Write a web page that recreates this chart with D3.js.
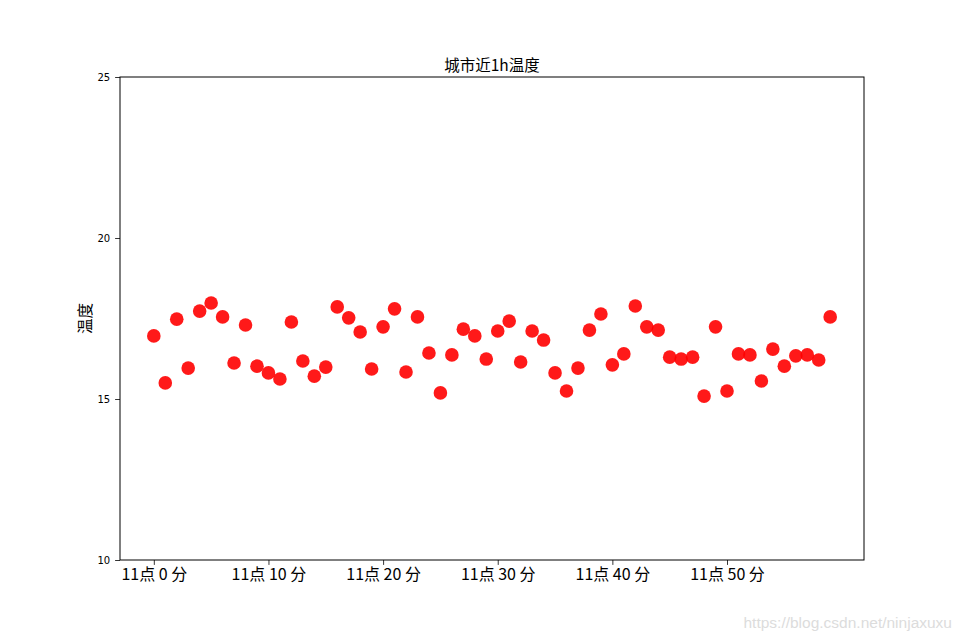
<!DOCTYPE html>
<html><head><meta charset="utf-8">
<script src="https://cdn.jsdelivr.net/npm/d3@7"></script>
<style>body{margin:0;background:#fff;}svg{display:block;}</style>
</head><body>
<svg id="c" width="960" height="640"></svg>
<script>
const minutes = d3.range(0, 60);
const temps = [16.96,15.50,17.48,15.96,17.73,17.98,17.55,16.12,17.30,16.02,
  15.81,15.62,17.39,16.18,15.71,15.99,17.86,17.52,17.08,15.93,
  17.24,17.80,15.84,17.55,16.43,15.19,16.37,17.17,16.96,16.24,
  17.11,17.42,16.15,17.11,16.83,15.81,15.25,15.96,17.14,17.64,
  16.06,16.40,17.89,17.24,17.14,16.30,16.24,16.30,15.09,17.24,
  15.25,16.40,16.37,15.56,16.55,16.02,16.34,16.37,16.21,17.55];
const xTicks = [0,10,20,30,40,50];
const xTickLabels = xTicks.map(m => "11点 " + m + " 分");
const yTicks = [10,15,20,25];
const title = "城市近1h温度";
const yLabel = "温度";

const svg = d3.select("#c");
const L=120, R=864, T=77, B=560;
const x = d3.scaleLinear().domain([-2.95, 61.95]).range([L, R]);
const y = d3.scaleLinear().domain([10, 25]).range([B, T]);

const xa = svg.append("g").attr("transform",`translate(0,${B})`)
  .call(d3.axisBottom(x).tickValues(xTicks).tickFormat((d,i)=>xTickLabels[i]).tickSize(4.9).tickPadding(4));
xa.selectAll("text").attr("font-family","'Noto Sans CJK SC', sans-serif").attr("font-size",16).attr("fill","#000");
const ya = svg.append("g").attr("transform",`translate(${L},0)`)
  .call(d3.axisLeft(y).tickValues(yTicks).tickSize(4.9).tickPadding(4.9));
ya.selectAll("text").attr("font-family","'DejaVu Sans', sans-serif").attr("font-size",10).attr("fill","#000");
svg.selectAll(".domain").remove();
svg.selectAll(".tick line").attr("stroke","#000").attr("stroke-width",0.8);

svg.append("rect").attr("x",L).attr("y",T).attr("width",R-L).attr("height",B-T)
  .attr("fill","none").attr("stroke","#000").attr("stroke-width",1);

svg.append("g").selectAll("circle").data(temps).join("circle")
  .attr("cx",(d,i)=>x(minutes[i])).attr("cy",d=>y(d)).attr("r",6.8)
  .attr("fill","#ff0000").attr("fill-opacity",0.9);

svg.append("text").attr("x",(L+R)/2).attr("y",71).attr("text-anchor","middle")
  .attr("font-family","'Noto Sans CJK SC', sans-serif").attr("font-size",15.5).text(title);
svg.append("text").attr("transform",`translate(91,${(T+B)/2}) rotate(-90)`).attr("text-anchor","middle")
  .attr("font-family","'Noto Sans CJK SC', sans-serif").attr("font-size",15.5).text(yLabel);
svg.append("text").attr("x",952).attr("y",628).attr("text-anchor","end")
  .attr("font-family","'Liberation Sans', Arial, sans-serif").attr("font-size",15.5).attr("fill","#dcdcdc")
  .text("https://blog.csdn.net/ninjaxuxu");
</script>
</body></html>
